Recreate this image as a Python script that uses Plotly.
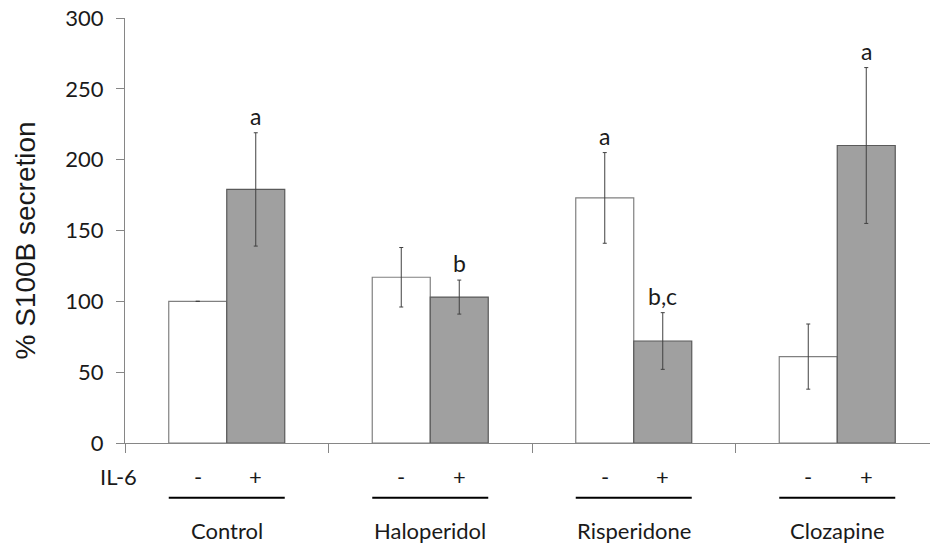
import plotly.graph_objects as go

# Treatment groups and IL-6 condition
groups = ["Control", "Haloperidol", "Risperidone", "Clozapine"]
il6_labels = ["-", "+"]

# % S100B secretion (mean) and error (SEM)
no_il6_mean = [100, 117, 173, 61]
no_il6_err = [0, 21, 32, 23]
il6_mean = [179, 103, 72, 210]
il6_err = [40, 12, 20, 55]

# Significance letters above each bar (empty = none)
no_il6_sig = ["", "", "a", ""]
il6_sig = ["a", "b", "b,c", "a"]

BAR_W = 0.285
FONT_FAMILY = "Lato, Open Sans, sans-serif"
TEXT_FONT = dict(family=FONT_FAMILY, size=22, color="#1a1a1a")

fig = go.Figure()
fig.add_trace(go.Bar(
    x=list(range(len(groups))), y=no_il6_mean, width=BAR_W, offset=-BAR_W,
    marker=dict(color="white", line=dict(color="#808080", width=1.2)),
    error_y=dict(type="data", array=no_il6_err, color="#404040", thickness=1, width=2),
    name="IL-6 -", showlegend=False,
))
fig.add_trace(go.Bar(
    x=list(range(len(groups))), y=il6_mean, width=BAR_W, offset=0,
    marker=dict(color="#a0a0a0", line=dict(color="#5a5a5a", width=1.2)),
    error_y=dict(type="data", array=il6_err, color="#404040", thickness=1, width=2),
    name="IL-6 +", showlegend=False,
))

annotations = []
shapes = []
plot_h = 425.0

for i, g in enumerate(groups):
    xs = [i - BAR_W / 2, i + BAR_W / 2]
    # significance letters
    for xc, m, e, s in [(xs[0], no_il6_mean[i], no_il6_err[i], no_il6_sig[i]),
                        (xs[1], il6_mean[i], il6_err[i], il6_sig[i])]:
        if s:
            annotations.append(dict(x=xc, y=m + e, xref="x", yref="y", text=s,
                                    showarrow=False, yanchor="bottom", yshift=1,
                                    font=dict(family=FONT_FAMILY, size=23, color="#1a1a1a")))
    # IL-6 minus / plus markers
    for xc, lab in zip(xs, il6_labels):
        annotations.append(dict(x=xc, y=0, xref="x", yref="paper", text=lab,
                                showarrow=False, yanchor="middle", yshift=-33, font=TEXT_FONT))
    # group underline
    shapes.append(dict(type="line", xref="x", yref="paper",
                       x0=i - BAR_W, x1=i + BAR_W,
                       y0=-(497.7 - 443) / plot_h, y1=-(497.7 - 443) / plot_h,
                       line=dict(color="black", width=2)))
    # group name
    annotations.append(dict(x=i, y=0, xref="x", yref="paper", text=g,
                            showarrow=False, yanchor="middle", yshift=-87, font=TEXT_FONT))

# IL-6 row label
annotations.append(dict(x=0, y=0, xref="paper", yref="paper", text="IL-6",
                        showarrow=False, xanchor="right", yanchor="middle",
                        xshift=-(125 - 139), yshift=-33, font=TEXT_FONT))

# y-axis title, drawn as rotated text
annotations.append(dict(x=0, y=0.5, xref="paper", yref="paper", text="% S100B secretion",
                        showarrow=False, textangle=-90, xanchor="center", yanchor="middle",
                        xshift=-100, yshift=-10,
                        font=dict(family="Liberation Sans, Arial, sans-serif", size=28, color="#1a1a1a")))

fig.update_layout(
    width=930, height=544,
    margin=dict(l=125, r=0, t=18, b=101),
    plot_bgcolor="white", paper_bgcolor="white",
    annotations=annotations, shapes=shapes,
    xaxis=dict(range=[-0.5, -0.5 + 805 / 203.5], tickvals=[-0.5, 0.5, 1.5, 2.5, 3.5],
               showticklabels=False, ticks="outside", ticklen=9, tickcolor="#868686",
               showline=True, linecolor="#868686", linewidth=1, showgrid=False, zeroline=False),
    yaxis=dict(range=[0, 300], tickvals=[0, 50, 100, 150, 200, 250, 300],
               ticks="outside", ticklen=8, tickcolor="#868686",
               showline=True, linecolor="#868686", linewidth=1, showgrid=False, zeroline=False,
               tickfont=dict(family=FONT_FAMILY, size=22, color="#1a1a1a"),
               ticklabelstandoff=8),
)

fig.write_html("out.html")
